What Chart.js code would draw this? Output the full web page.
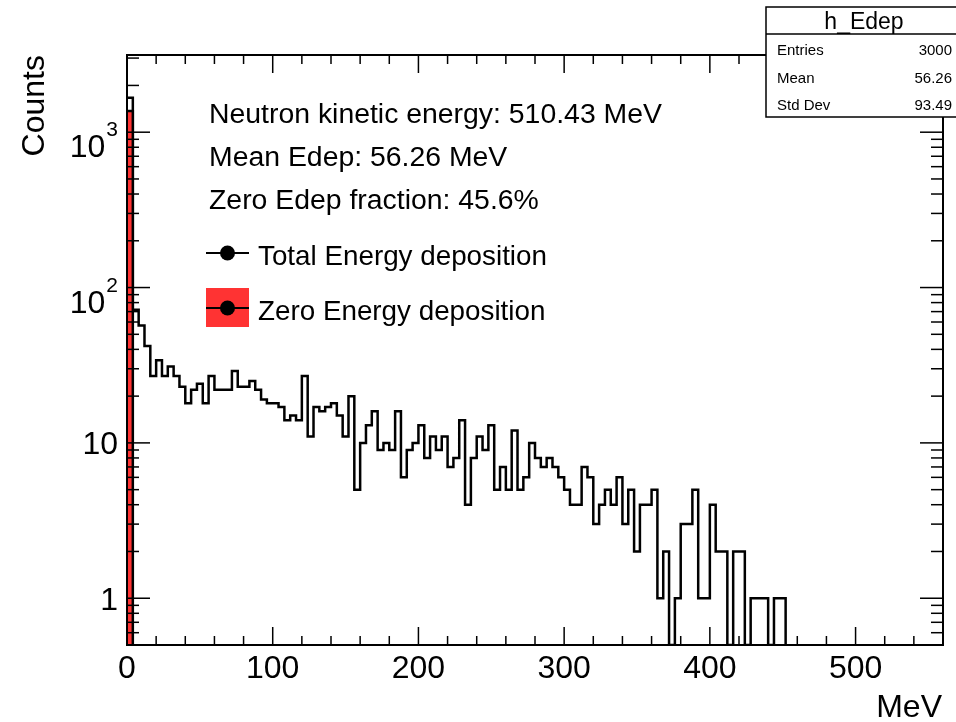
<!DOCTYPE html>
<html>
<head>
<meta charset="utf-8">
<title>h_Edep</title>
<script src="https://cdn.jsdelivr.net/npm/chart.js@4.4.1/dist/chart.umd.min.js"></script>
<style>
  html, body { margin: 0; padding: 0; background: #fff; }
  canvas { display: block; }
</style>
</head>
<body>
<canvas id="edep" width="956" height="722"></canvas>
<script>
// histogram binning (MeV)
const binWidth = 4;
const xMin = 0;
const xMax = 560;
const yMin = 0.5;
const yMax = 3140;

// h_Edep bin contents, bin 0 = [0,4) MeV ... last filled bin = [448,452) MeV
const totalCounts = [
  1666, 72, 57, 42, 27, 34, 27, 31, 27, 23, 18, 22, 24, 18, 27, 22, 22, 22, 29, 23,
  23, 25, 22, 19, 18, 18, 17, 14, 15, 14, 27, 11, 17, 16, 17, 18, 15, 11, 20, 5,
  10, 13, 16, 9, 10, 9, 16, 6, 9, 10, 13, 8, 11, 9, 11, 7, 8, 14, 4, 8,
  11, 9, 13, 5, 7, 5, 12, 5, 6, 10, 8, 7, 8, 7, 6, 5, 4, 4, 7, 6,
  3, 4, 5, 4, 6, 3, 5, 2, 4, 4, 5, 1, 2, 0, 1, 3, 3, 5, 1, 1,
  4, 2, 2, 0, 2, 2, 0, 1, 1, 1, 0, 1, 1
];
// events with exactly zero deposit (all in the first bin)
const zeroCounts = [1368];

const xLabels = [0, 100, 200, 300, 400, 500];
const yLabels = [1, 10, 100, 1000];

const infoLines = [
  "Neutron kinetic energy: 510.43 MeV",
  "Mean Edep: 56.26 MeV",
  "Zero Edep fraction: 45.6%"
];
const legendLabels = ["Total Energy deposition", "Zero Energy deposition"];
const statsTitle = "h_Edep";
const statsNames = ["Entries", "Mean", "Std Dev"];
const statsValues = ["3000", "56.26", "93.49"];

const FONT = "'Liberation Sans', Arial, Helvetica, sans-serif";
const RED = "#ff3333";

// empty bins sit on the axis floor of the log scale, like ROOT draws them
const floorValue = (c) => (c > 0 ? c : yMin);

// step points at the low edge of every bin, closed at the high edge of the last one
const totalPoints = totalCounts.map((c, i) => ({ x: xMin + i * binWidth, y: floorValue(c) }));
totalPoints.push({ x: xMin + totalCounts.length * binWidth, y: yMin });

const zeroPoints = [];
zeroCounts.forEach((c, i) => {
  zeroPoints.push({ x: xMin + i * binWidth, y: floorValue(c) });
});
zeroPoints.push({ x: xMin + zeroCounts.length * binWidth, y: floorValue(zeroCounts[zeroCounts.length - 1]) });
zeroPoints.push({ x: xMin + zeroCounts.length * binWidth, y: yMin });

function seg(ctx, x1, y1, x2, y2) {
  ctx.beginPath();
  ctx.moveTo(x1, y1);
  ctx.lineTo(x2, y2);
  ctx.stroke();
}

// frame, ticks, labels, text and stats box in ROOT style
const rootStyle = {
  id: "rootStyle",
  afterDraw(chart) {
    const { ctx, chartArea: a } = chart;
    const xs = chart.scales.x;
    const ys = chart.scales.y;
    ctx.save();
    ctx.strokeStyle = "#000";
    ctx.fillStyle = "#000";

    // x ticks, bottom and top
    ctx.lineWidth = 1.5;
    for (let v = xMin; v <= xMax; v += 20) {
      const px = xs.getPixelForValue(v);
      const len = v % 100 === 0 ? 18 : 9;
      seg(ctx, px, a.bottom, px, a.bottom - len);
      seg(ctx, px, a.top, px, a.top + len);
    }

    // y ticks, left and right
    for (let d = 0.1; d <= 1000; d *= 10) {
      for (let m = 1; m <= 9; m++) {
        const v = Math.round(m * d * 10) / 10;
        if (v < yMin || v > yMax) continue;
        const py = ys.getPixelForValue(v);
        const len = m === 1 ? 23 : 12;
        seg(ctx, a.left, py, a.left + len, py);
        seg(ctx, a.right, py, a.right - len, py);
      }
    }

    // frame
    ctx.lineWidth = 2;
    ctx.strokeRect(a.left, a.top, a.right - a.left, a.bottom - a.top);

    // x labels
    ctx.font = "32px " + FONT;
    ctx.textAlign = "center";
    ctx.textBaseline = "alphabetic";
    xLabels.forEach((v) => ctx.fillText(String(v), xs.getPixelForValue(v), a.bottom + 33));

    // y labels
    const lx = a.left - 9;
    yLabels.forEach((v) => {
      const py = ys.getPixelForValue(v);
      const exp = Math.round(Math.log10(v));
      ctx.textAlign = "right";
      if (exp < 2) {
        ctx.font = "32px " + FONT;
        ctx.fillText(String(v), lx, py + 11.5);
      } else {
        ctx.font = "21px " + FONT;
        const sup = String(exp);
        const sw = ctx.measureText(sup).width;
        ctx.fillText(sup, lx, py + 4);
        ctx.font = "32px " + FONT;
        ctx.fillText("10", lx - sw - 1, py + 25);
      }
    });

    // axis titles
    ctx.font = "32px " + FONT;
    ctx.textAlign = "right";
    ctx.fillText("MeV", a.right - 1, 717);
    ctx.save();
    ctx.translate(44, a.top);
    ctx.rotate(-Math.PI / 2);
    ctx.fillText("Counts", 0, 0);
    ctx.restore();

    // info text
    ctx.font = "28.4px " + FONT;
    ctx.textAlign = "left";
    infoLines.forEach((t, i) => ctx.fillText(t, 209, 123 + i * 43));

    // legend
    const mx = 227.5;
    ctx.fillStyle = RED;
    ctx.fillRect(206, 288, 43, 39);
    ctx.fillStyle = "#000";
    ctx.lineWidth = 2;
    ctx.font = "27.8px " + FONT;
    [253, 308].forEach((ly, i) => {
      seg(ctx, 206, ly, 249, ly);
      ctx.beginPath();
      ctx.arc(mx, ly, 7.5, 0, Math.PI * 2);
      ctx.fill();
      ctx.fillText(legendLabels[i], 258, ly + 12);
    });

    // stats box
    const bx = 766, by = 7, bw = 200, bh = 110;
    ctx.fillStyle = "#fff";
    ctx.fillRect(bx, by, bw, bh);
    ctx.lineWidth = 1.5;
    ctx.strokeRect(bx, by, bw, bh);
    seg(ctx, bx, 34, bx + bw, 34);
    ctx.fillStyle = "#000";
    ctx.font = "23px " + FONT;
    ctx.textAlign = "center";
    ctx.fillText(statsTitle, 864, 29);
    ctx.font = "15px " + FONT;
    statsNames.forEach((n, i) => {
      const by2 = 55 + i * 27.5;
      ctx.textAlign = "left";
      ctx.fillText(n, 777, by2);
      ctx.textAlign = "right";
      ctx.fillText(statsValues[i], 952, by2);
    });

    ctx.restore();
  }
};

new Chart(document.getElementById("edep"), {
  type: "line",
  data: {
    datasets: [
      {
        label: legendLabels[1],
        data: zeroPoints,
        stepped: "before",
        borderColor: "#000",
        borderWidth: 2.5,
        backgroundColor: RED,
        fill: "start",
        pointRadius: 0,
        order: 0
      },
      {
        label: legendLabels[0],
        data: totalPoints,
        stepped: "before",
        borderColor: "#000",
        borderWidth: 2.5,
        fill: false,
        pointRadius: 0,
        order: 1
      }
    ]
  },
  options: {
    responsive: false,
    animation: false,
    events: [],
    layout: { padding: { left: 127, right: 13, top: 55, bottom: 77 } },
    plugins: { legend: { display: false }, tooltip: { enabled: false } },
    scales: {
      x: { type: "linear", min: xMin, max: xMax, display: false },
      y: { type: "logarithmic", min: yMin, max: yMax, display: false }
    }
  },
  plugins: [rootStyle]
});
</script>
</body>
</html>
